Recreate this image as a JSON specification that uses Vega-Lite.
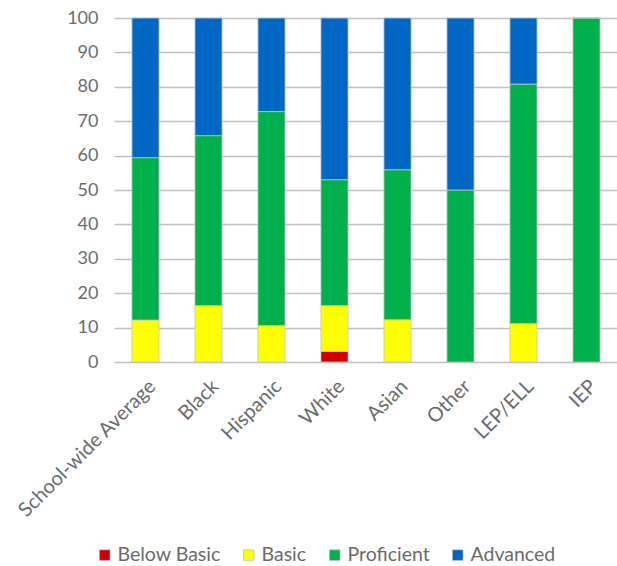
{
  "$schema": "https://vega.github.io/schema/vega-lite/v6.json",
  "width": 504,
  "height": 344,
  "autosize": {"type": "none"},
  "padding": {"left": 114, "top": 18, "right": 0, "bottom": 204},
  "background": "white",
  "config": {
    "view": {"stroke": null},
    "font": "Lato",
    "axis": {
      "labelFont": "Lato",
      "labelColor": "#6b6b6b",
      "labelFontSize": 18,
      "domain": false,
      "ticks": false,
      "tickSize": 0,
      "title": null
    },
    "legend": {
      "labelFont": "Lato",
      "labelColor": "#6b6b6b",
      "labelFontSize": 19.5
    }
  },
  "data": {
    "values": [
      {"group": "School-wide Average", "level": "Below Basic", "pct": 0},
      {"group": "School-wide Average", "level": "Basic", "pct": 12.2},
      {"group": "School-wide Average", "level": "Proficient", "pct": 47.2},
      {"group": "School-wide Average", "level": "Advanced", "pct": 40.6},
      {"group": "Black", "level": "Below Basic", "pct": 0},
      {"group": "Black", "level": "Basic", "pct": 16.4},
      {"group": "Black", "level": "Proficient", "pct": 49.4},
      {"group": "Black", "level": "Advanced", "pct": 34.2},
      {"group": "Hispanic", "level": "Below Basic", "pct": 0},
      {"group": "Hispanic", "level": "Basic", "pct": 10.6},
      {"group": "Hispanic", "level": "Proficient", "pct": 62.2},
      {"group": "Hispanic", "level": "Advanced", "pct": 27.2},
      {"group": "White", "level": "Below Basic", "pct": 3.1},
      {"group": "White", "level": "Basic", "pct": 13.3},
      {"group": "White", "level": "Proficient", "pct": 36.6},
      {"group": "White", "level": "Advanced", "pct": 47.0},
      {"group": "Asian", "level": "Below Basic", "pct": 0},
      {"group": "Asian", "level": "Basic", "pct": 12.3},
      {"group": "Asian", "level": "Proficient", "pct": 43.6},
      {"group": "Asian", "level": "Advanced", "pct": 44.1},
      {"group": "Other", "level": "Below Basic", "pct": 0},
      {"group": "Other", "level": "Basic", "pct": 0},
      {"group": "Other", "level": "Proficient", "pct": 50},
      {"group": "Other", "level": "Advanced", "pct": 50},
      {"group": "LEP/ELL", "level": "Below Basic", "pct": 0},
      {"group": "LEP/ELL", "level": "Basic", "pct": 11.2},
      {"group": "LEP/ELL", "level": "Proficient", "pct": 69.6},
      {"group": "LEP/ELL", "level": "Advanced", "pct": 19.2},
      {"group": "IEP", "level": "Below Basic", "pct": 0},
      {"group": "IEP", "level": "Basic", "pct": 0},
      {"group": "IEP", "level": "Proficient", "pct": 100},
      {"group": "IEP", "level": "Advanced", "pct": 0}
    ]
  },
  "transform": [
    {"calculate": "indexof(['Below Basic', 'Basic', 'Proficient', 'Advanced'], datum.level)", "as": "stackRank"}
  ],
  "mark": {"type": "bar", "stroke": "#c4c4c4", "strokeWidth": 0.8},
  "encoding": {
    "x": {
      "field": "group",
      "type": "nominal",
      "sort": null,
      "scale": {"paddingInner": 0.57, "paddingOuter": 0.285},
      "axis": {
        "labelAngle": -45,
        "labelPadding": 14,
        "labelFontSize": 20,
        "labelLimit": 400,
        "grid": false
      }
    },
    "y": {
      "field": "pct",
      "type": "quantitative",
      "stack": "zero",
      "scale": {"domain": [0, 100], "nice": false},
      "axis": {
        "values": [0, 10, 20, 30, 40, 50, 60, 70, 80, 90, 100],
        "labelPadding": 16,
        "grid": true,
        "gridColor": "#bfbfbf",
        "gridWidth": 1.3
      }
    },
    "color": {
      "field": "level",
      "type": "nominal",
      "scale": {
        "domain": ["Below Basic", "Basic", "Proficient", "Advanced"],
        "range": ["#cc0000", "#ffff00", "#00b04c", "#0068c4"]
      },
      "legend": {
        "title": null,
        "orient": "none",
        "direction": "horizontal",
        "legendX": -19,
        "legendY": 527,
        "symbolType": "square",
        "symbolSize": 110,
        "symbolStrokeColor": "#b0b0b0",
        "symbolStrokeWidth": 0.6,
        "labelOffset": 3,
        "columnPadding": 18
      }
    },
    "order": {"field": "stackRank", "type": "quantitative", "sort": "ascending"}
  }
}
